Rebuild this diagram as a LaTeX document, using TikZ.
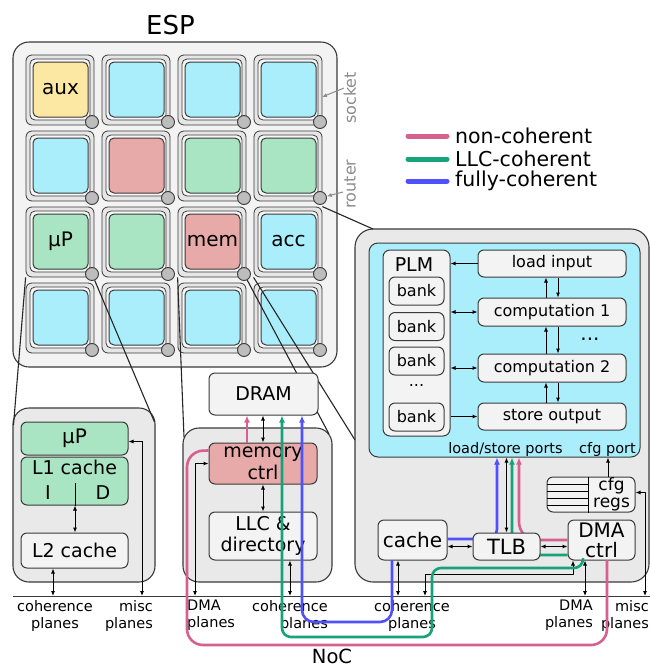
\documentclass[tikz,border=0pt]{standalone}
\usepackage{fontspec}
\setmainfont{DejaVu Sans}
\usetikzlibrary{arrows.meta,calc}
\definecolor{lc}{HTML}{3A3A3A}
\definecolor{espf}{HTML}{F3F3F3}
\definecolor{bigf}{HTML}{E9E9E9}
\definecolor{nodef}{HTML}{F3F3F3}
\definecolor{tcyan}{HTML}{AAEEFC}
\definecolor{tgreen}{HTML}{A9E5C3}
\definecolor{tred}{HTML}{E8A9A9}
\definecolor{tyel}{HTML}{FDE8A3}
\definecolor{pinkc}{HTML}{D6608E}
\definecolor{greenc}{HTML}{16A27A}
\definecolor{bluec}{HTML}{5050FF}
\definecolor{sockf}{HTML}{E6E6E6}
\definecolor{sockinf}{HTML}{F6F6F6}
\definecolor{routf}{HTML}{BDBDBD}
\definecolor{glbl}{HTML}{8C8C8C}
\begin{document}
\begin{tikzpicture}[x=1pt,y=-1pt,line join=round,
  >={Latex[length=5pt,width=4.2pt]},
  f14/.style={font=\fontsize{14.5}{17}\selectfont},
  f16/.style={font=\fontsize{16}{19}\selectfont},
  f17/.style={font=\fontsize{17}{17}\selectfont},
  f19/.style={font=\fontsize{19}{21.5}\selectfont},
  f20/.style={font=\fontsize{20}{23}\selectfont},
  lbl/.style={inner sep=0pt,text=black},
  sock/.style={draw=lc,fill=sockf,rounded corners=6pt,line width=0.8pt,minimum width=68pt,minimum height=70pt,inner sep=0pt},
  sockinner/.style={draw=lc,fill=sockinf,rounded corners=5pt,line width=0.8pt,minimum width=60pt,minimum height=61pt,inner sep=0pt},
  core/.style={draw=lc,rounded corners=5pt,line width=1pt,minimum width=55pt,minimum height=55pt,inner sep=0pt,f20},
  router/.style={circle,draw=lc,fill=routf,line width=0.9pt,minimum size=13pt,inner sep=0pt},
  bigbox/.style={draw=lc,fill=bigf,rounded corners=16pt,line width=1.1pt,inner sep=0pt},
  bx/.style={draw=lc,fill=nodef,rounded corners=6pt,line width=1pt,inner sep=0pt,align=center},
  arr/.style={->,line width=1pt,draw=black},
  darr/.style={<->,line width=1pt,draw=black},
  zline/.style={line width=1.1pt,draw=black!85},
  cline/.style={line width=2.6pt,rounded corners=12pt},
  ctip/.style={-{Latex[length=7pt,width=6pt]}},
  legline/.style={line width=5pt,line cap=round},
  glabel/.style={inner sep=0pt,text=glbl,font=\fontsize{16}{16}\selectfont},
  garr/.style={->,draw=glbl,line width=1pt}
]
\useasboundingbox (0,0) rectangle (650,670);
\fill[white] (0,0) rectangle (650,670);

% ---------- ESP chip ----------
\node[draw=lc,fill=espf,rounded corners=16pt,line width=1.1pt,minimum width=324pt,minimum height=325pt,inner sep=0pt] (esp) at (175,204.5) {};
\node[lbl,font=\fontsize{26}{30}\selectfont] (title) at (170.5,25) {ESP};

\foreach \i/\j/\c/\t in {0/0/tyel/aux,1/0/tcyan/{},2/0/tcyan/{},3/0/tcyan/{},
  0/1/tcyan/{},1/1/tred/{},2/1/tgreen/{},3/1/tgreen/{},
  0/2/tgreen/µP,1/2/tgreen/{},2/2/tred/mem,3/2/tcyan/acc,
  0/3/tcyan/{},1/3/tcyan/{},2/3/tcyan/{},3/3/tcyan/{}}{
  \pgfmathsetmacro\xo{26+76*\i}
  \pgfmathsetmacro\yo{55+76*\j}
  \node[sock] (s\i\j) at (\xo+34,\yo+35) {};
  \node[sockinner] (q\i\j) at (\xo+34,\yo+34.5) {};
  \node[core,fill=\c] (c\i\j) at (\xo+34.5,\yo+34.5) {\t};
  \node[router] (r\i\j) at (\xo+66,\yo+67) {};
}

% socket / router labels
\node[glabel,rotate=90] (socklbl) at (350,98) {socket};
\node[glabel,rotate=90] (routlbl) at (350,184) {router};
\coordinate (sa) at (344,88);
\coordinate (st) at (322,97);
\coordinate (ra) at (343,192);
\draw[garr] (sa) -- (st);
\draw[garr] (ra) -- (r31);

% legend
\coordinate (lg1a) at (408,136); \coordinate (lg1b) at (447,136);
\coordinate (lg2a) at (408,159); \coordinate (lg2b) at (447,159);
\coordinate (lg3a) at (408,181); \coordinate (lg3b) at (447,181);
\draw[legline,pinkc] (lg1a) -- (lg1b);
\draw[legline,greenc] (lg2a) -- (lg2b);
\draw[legline,bluec] (lg3a) -- (lg3b);
\node[lbl,anchor=west,font=\fontsize{20.5}{22}\selectfont] (lgt1) at (455,136) {non-coherent};
\node[lbl,anchor=west,font=\fontsize{20.5}{22}\selectfont] (lgt2) at (455,159) {LLC-coherent};
\node[lbl,anchor=west,font=\fontsize{20.5}{22}\selectfont] (lgt3) at (455,181) {fully-coherent};

% ---------- detail boxes ----------
\node[bigbox,minimum width=142pt,minimum height=174pt] (leftbox) at (84,495) {};
\node[bigbox,minimum width=149pt,minimum height=154pt] (midbox) at (257.5,505) {};
\node[bigbox,rounded corners=18pt,minimum width=294pt,minimum height=353pt] (accbox) at (502,405.5) {};
\node[draw=lc,fill=tcyan,rounded corners=9pt,line width=1pt,minimum width=271pt,minimum height=214pt,inner sep=0pt] (cyanbox) at (504.5,350) {};

% zoom lines
\coordinate (lb1) at (13.5,425);
\coordinate (lb2) at (154.5,422);
\coordinate (mb1) at (184,437);
\coordinate (mb2) at (329,434);
\coordinate (ab1) at (373,229);
\coordinate (ab2) at (355,440);
\draw[zline] (s02.south west) -- (lb1);
\draw[zline] (r02) -- (lb2);
\draw[zline] (s22.south west) -- (mb1);
\draw[zline] (r22) -- (mb2);
\draw[zline] (s32.north east) -- (ab1);
\draw[zline] (s32.south west) -- (ab2);

% ---------- NoC ----------
\coordinate (nocL) at (13,596);
\coordinate (nocR) at (650,596);
\draw[line width=1pt,draw=lc] (nocL) -- (nocR);
\coordinate (n1) at (53,596);
\coordinate (n2) at (142,596);
\coordinate (n3) at (195,596);
\coordinate (n4) at (290,596);
\coordinate (n5) at (398,596);
\coordinate (n6) at (425,596);
\coordinate (n7) at (585,596);
\coordinate (n8) at (645,596);

\node[lbl,f14,anchor=north,align=center] (nl1) at (55,600) {coherence\\planes};
\node[lbl,f14,anchor=north east,align=right] (nl2) at (153,600) {misc\\planes};
\node[lbl,f14,anchor=north west,align=left] (nl3) at (187,600) {DMA\\planes};
\node[lbl,f14,anchor=north east,align=right] (nl4) at (328,600) {coherence\\planes};
\node[lbl,f14,anchor=north,align=center] (nl5) at (412,600) {coherence\\planes};
\node[lbl,f14,anchor=north east,align=right] (nl6) at (593,600) {DMA\\planes};
\node[lbl,f14,anchor=north east,align=right] (nl7) at (649,600) {misc\\planes};
\node[lbl,font=\fontsize{19.5}{22}\selectfont] (noc) at (332,656) {NoC};

% ---------- left tile (uP) ----------
\node[bx,fill=tgreen,f20,minimum width=107pt,minimum height=33pt] (up) at (74.5,438.5) {µP};
\node[bx,fill=tgreen,minimum width=107pt,minimum height=48pt] (l1) at (74.5,481) {};
\node[lbl,f19] (l1t) at (74.5,467) {L1 cache};
\node[lbl,f19] (l1i) at (48,493) {I};
\node[lbl,f19] (l1d) at (103,493) {D};
\coordinate (l1div) at (75,483);
\draw[line width=1pt] (l1div) -- (l1div |- l1.south);
\node[bx,f19,minimum width=107pt,minimum height=35pt] (l2) at (74.5,550.5) {L2 cache};
\draw[darr] (l1div |- l1.south) -- (l1div |- l2.north);
\draw[darr] (n1 |- l2.south) -- (n1);
\draw[darr] ($(up.east)+(0,3)$) -- ($(up.east -| n2)+(0,3)$) -- (n2);

% ---------- middle tile (mem) ----------
\node[bx,f19,minimum width=109pt,minimum height=42pt] (dram) at (263.5,394) {DRAM};
\node[bx,f19,fill=tred,minimum width=108pt,minimum height=41pt] (memctrl) at (263,463.5) {memory\\ctrl};
\node[bx,f19,minimum width=108pt,minimum height=48pt] (llc) at (263,536) {LLC \&\\directory};
\coordinate (mx) at (263,0);
\draw[darr] (mx |- memctrl.north) -- (mx |- dram.south);
\draw[darr] (mx |- memctrl.south) -- (mx |- llc.north);
\draw[darr] (n4 |- llc.south) -- (n4);
\draw[darr] (memctrl.west) -- (memctrl.west -| n3) -- (n3);

% ---------- accelerator tile ----------
\node[bx,fill=nodef,rounded corners=7pt,minimum width=67pt,minimum height=186pt] (plm) at (416.5,343) {};
\node[lbl,f19] (plmt) at (414,265) {PLM};
\node[bx,f16,minimum width=55pt,minimum height=28pt] (b1) at (416.5,291) {bank};
\node[bx,f16,minimum width=55pt,minimum height=28pt] (b2) at (416.5,326.5) {bank};
\node[bx,f16,minimum width=55pt,minimum height=28pt] (b3) at (416.5,361) {bank};
\node[lbl,f16] (bdots) at (416.5,386) {...};
\node[bx,f16,minimum width=55pt,minimum height=28pt] (b4) at (416.5,417) {bank};

\node[bx,f16,minimum width=148pt,minimum height=27pt] (load) at (552,263.5) {load input};
\node[bx,f16,minimum width=148pt,minimum height=28pt] (comp1) at (552,312) {computation 1};
\node[bx,f16,minimum width=148pt,minimum height=28pt] (comp2) at (552,368) {computation 2};
\node[bx,f16,minimum width=148pt,minimum height=27pt] (store) at (552,416.5) {store output};
\node[lbl,f20] (cdots) at (590,339) {...};

\draw[arr] (load.west) -- (load.west -| plm.east);
\draw[darr] (comp1.west) -- (comp1.west -| plm.east);
\draw[darr] (comp2.west) -- (comp2.west -| plm.east);
\draw[arr] (store.west -| plm.east) -- (store.west);
\coordinate (vx1) at (546,0);
\coordinate (vx2) at (558,0);
\draw[arr] (vx1 |- comp1.north) -- (vx1 |- load.south);
\draw[arr] (vx2 |- load.south) -- (vx2 |- comp1.north);
\draw[arr] (vx1 |- comp2.north) -- (vx1 |- comp1.south);
\draw[arr] (vx2 |- comp1.south) -- (vx2 |- comp2.north);
\draw[arr] (vx1 |- store.north) -- (vx1 |- comp2.south);
\draw[arr] (vx2 |- comp2.south) -- (vx2 |- store.north);

\node[lbl,f14] (lsp) at (505.5,449) {load/store ports};
\node[lbl,f14] (cfgp) at (607.5,449) {cfg port};

\node[bx,font=\fontsize{20}{20}\selectfont,minimum width=69pt,minimum height=40pt] (cache) at (412.5,540) {cache};
\node[bx,font=\fontsize{20}{20}\selectfont,minimum width=67pt,minimum height=40pt] (dma) at (601.5,540) {DMA\\ctrl};
\node[bx,minimum width=88pt,minimum height=35pt] (cfg) at (591,494.5) {};
\coordinate (cdv) at (588,0);
\draw[line width=0.9pt] (cdv |- cfg.north) -- (cdv |- cfg.south);
\foreach \yy in {484,491,498,505}{
  \draw[line width=0.8pt] (cfg.west |- 0,\yy) -- (cdv |- 0,\yy);
}
\node[lbl,f17,align=center] (cfgt) at (611.5,494) {cfg\\regs};

% coloured lines inside accelerator (behind TLB)
\coordinate (pbx) at (497,0);
\coordinate (pgx) at (512,0);
\coordinate (ppx) at (519,0);
\draw[cline,bluec,ctip,rounded corners=10pt] ($(cache.east)+(0,-1)$) -- (pbx |- 0,539) -- (pbx |- cyanbox.south);
\draw[cline,greenc,ctip,rounded corners=10pt] ($(dma.west)+(0,15)$) -- (pgx |- 0,555) -- (pgx |- cyanbox.south);
\draw[cline,pinkc,ctip,rounded corners=18pt] (dma.west) -- (ppx |- dma.west) -- (ppx |- cyanbox.south);

\node[bx,font=\fontsize{21}{21}\selectfont,minimum width=67pt,minimum height=27pt] (tlb) at (506.5,546.5) {TLB};

\draw[darr] (tlb.north) -- (tlb.north |- cyanbox.south);
\coordinate (cfgx) at (608,0);
\draw[arr] (cfgx |- cfg.north) -- (cfgx |- cyanbox.south);
\draw[darr] (tlb.west -| cache.east) -- (tlb.west);
\draw[darr] (tlb.east) -- (tlb.east -| dma.west);
\draw[darr] (n5 |- cache.south) -- (n5);
\draw[darr] (n7 |- dma.south) -- (n7);
\coordinate (dk) at (573,574);
\draw[darr] (dk |- dma.south) -- (dk) -- (dk -| n6) -- (n6);
\draw[darr] ($(cfg.east)+(0,-2)$) -- ($(cfg.east -| n8)+(0,-2)$) -- (n8);

% ---------- coloured coherence paths ----------
\coordinate (pmx) at (247,0);
\coordinate (gmx) at (282,0);
\coordinate (bmx) at (302,0);
\draw[line width=2.6pt,pinkc,ctip] (pmx |- memctrl.north) -- (pmx |- dram.south);
\draw[cline,pinkc,rounded corners=16pt] ($(memctrl.north west)+(0,8)$) -- (187,451) -- (187,645) -- (607,645) -- (607,560);
\draw[cline,greenc,ctip,rounded corners=9pt] (583,560) -- (583,568) -- (432,568) -- (432,637) -- (282,637) -- (gmx |- dram.south);
\draw[cline,bluec,ctip,rounded corners=12pt] (392,560) -- (392,622) -- (302,622) -- (bmx |- dram.south);
\end{tikzpicture}
\end{document}
